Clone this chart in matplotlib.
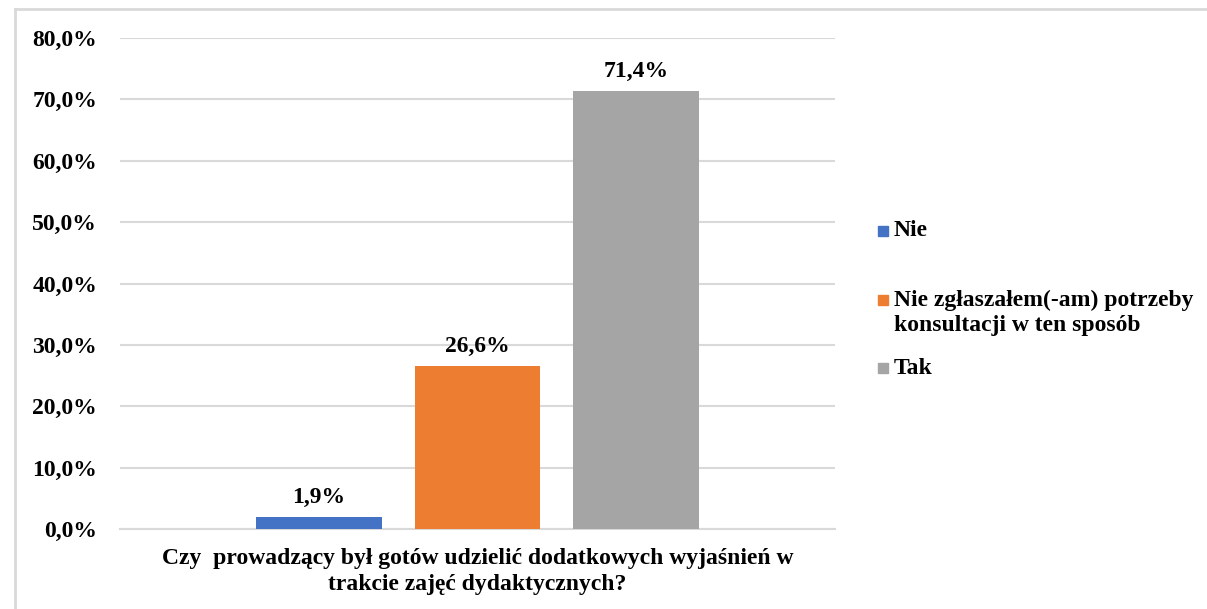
import matplotlib.pyplot as plt
from matplotlib.patches import Rectangle
from matplotlib.lines import Line2D

series = ["Nie", "Nie zgłaszałem(-am) potrzeby\nkonsultacji w ten sposób", "Tak"]
values = [1.9, 26.6, 71.4]
colors = ["#4472C4", "#ED7D31", "#A5A5A5"]
category = "Czy  prowadzący był gotów udzielić dodatkowych wyjaśnień w\ntrakcie zajęć dydaktycznych?"
yticks = [0, 10, 20, 30, 40, 50, 60, 70, 80]

plt.rcParams['font.family'] = ['Liberation Serif', 'DejaVu Serif']
plt.rcParams['font.weight'] = 'bold'
FS = 17

fig = plt.figure(figsize=(12.07, 6.09), dpi=100)
ax = fig.add_axes([120/1207, 1 - 529/609, 715/1207, (529 - 38)/609])

# chart border (top and left visible)
fig.add_artist(Line2D([15/1207, 15/1207], [0, 1 - 9/609], transform=fig.transFigure,
                      color="#d9d9d9", lw=2))
fig.add_artist(Line2D([15/1207, 1], [1 - 9/609, 1 - 9/609], transform=fig.transFigure,
                      color="#d9d9d9", lw=2))

width = 0.176
step = 0.222
for i, (v, c) in enumerate(zip(values, colors)):
    x = (i - 1) * step
    ax.bar(x, v, width=width, color=c, zorder=3)
    ax.annotate(f"{v:.1f}%".replace(".", ","), (x, v), xytext=(0, 14),
                textcoords="offset points", ha="center", va="center",
                fontsize=FS, fontweight="bold")

ax.set_xlim(-0.5, 0.5)
ax.set_ylim(0, 80)
ax.set_yticks(yticks)
ax.set_yticklabels([f"{t:.1f}%".replace(".", ",") for t in yticks], fontsize=FS, fontweight="bold")
ax.tick_params(axis="y", length=0, pad=16.5)
ax.set_xticks([0])
ax.set_xticklabels([category], fontsize=FS, fontweight="bold", linespacing=1.3)
ax.tick_params(axis="x", length=0, pad=13.5)
ax.grid(axis="y", color="#d9d9d9", lw=1.5, zorder=0)
for s in ["top", "right", "left"]:
    ax.spines[s].set_visible(False)
ax.spines["bottom"].set_color("#d9d9d9")
ax.spines["bottom"].set_linewidth(1.5)

# legend drawn manually to match the uneven spacing (y = first line centre, px)
leg_y = [231, 300, 368]
line_px = 25
for lab, c, yy in zip(series, colors, leg_y):
    n = lab.count("\n")
    fig.add_artist(Rectangle((878/1207, 1 - (yy + 5)/609), 10/1207, 10/609,
                             transform=fig.transFigure, color=c))
    fig.text(894/1207, 1 - (yy + n * line_px / 2)/609, lab, fontsize=FS, fontweight="bold",
             va="center", ha="left", linespacing=1.26)

fig.savefig("out.png", dpi=100)
